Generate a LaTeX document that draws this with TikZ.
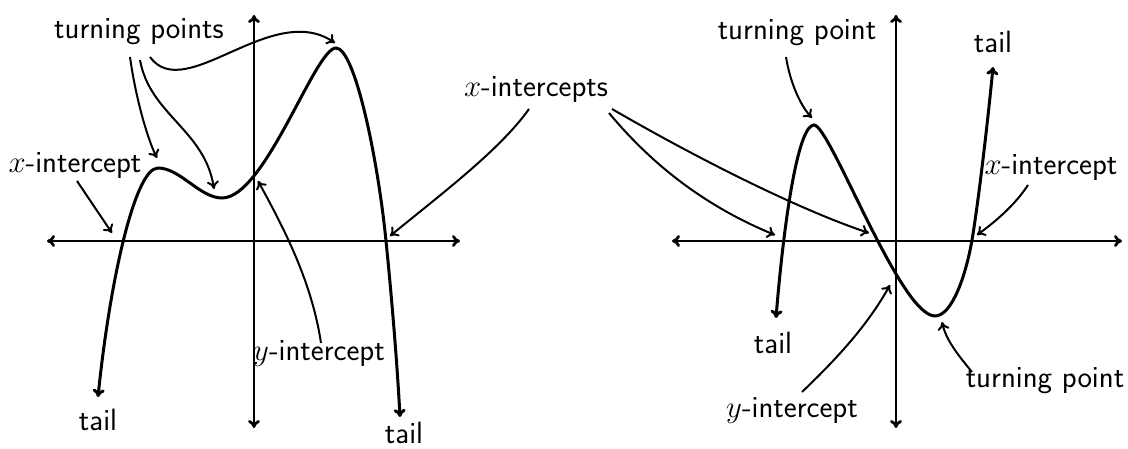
\RequirePackage{fix-cm}
\documentclass[tikz,border=0pt]{standalone}
\usetikzlibrary{arrows.meta}
\begin{document}
\begin{tikzpicture}[x=1pt,y=-1pt,
  lbl/.style={font=\fontsize{30.8}{36}\selectfont\sffamily, anchor=base, inner sep=0pt},
  axis/.style={line width=2.8pt, {To[length=8pt,width=12pt]}-{To[length=8pt,width=12pt]}},
  graph/.style={line width=3pt, {To[length=8pt,width=12pt]}-{To[length=8pt,width=12pt]}},
  ann/.style={line width=2pt, -{To[length=8pt,width=12pt]}}]
\useasboundingbox (0,0) rectangle (1128,449);

% labels
\node[lbl] (tps)  at (139,39)  {turning points};
\node[lbl] (xil)  at (75,173)  {$x$-intercept};
\node[lbl] (xis)  at (536,97)  {$x$-intercepts};
\node[lbl] (yil)  at (319,360) {$y$-intercept};
\node[lbl] (tl1)  at (98,430)  {tail};
\node[lbl] (tl2)  at (404,443) {tail};
\node[lbl] (tpr1) at (797,40)  {turning point};
\node[lbl] (tl3)  at (993,53)  {tail};
\node[lbl] (xir)  at (1051,175) {$x$-intercept};
\node[lbl] (tl4)  at (773,353) {tail};
\node[lbl] (yir)  at (792,417) {$y$-intercept};
\node[lbl] (tpr2) at (1045,387) {turning point};

% axes
\coordinate (Lxl) at (47,241);  \coordinate (Lxr) at (460,241);
\coordinate (Lyt) at (254,15);  \coordinate (Lyb) at (254,428);
\coordinate (Rxl) at (672,241); \coordinate (Rxr) at (1122,241);
\coordinate (Ryt) at (896,15);  \coordinate (Ryb) at (896,428);
\draw[axis] (Lxl) -- (Lxr);
\draw[axis] (Lyt) -- (Lyb);
\draw[axis] (Rxl) -- (Rxr);
\draw[axis] (Ryt) -- (Ryb);

% left graph (quartic)
\coordinate (Lt1) at (98,397);
\coordinate (Lm1) at (158,168);
\coordinate (Ln1) at (222,198);
\coordinate (Lm2) at (336,48);
\coordinate (Lx2) at (386,241);
\coordinate (Lt2) at (400,417);
\draw[graph] (Lt1) .. controls (110,280) and (135,168) .. (Lm1)
  .. controls (180,168) and (200,198) .. (Ln1)
  .. controls (265,198) and (315,48) .. (Lm2)
  .. controls (355,48) and (378,160) .. (Lx2)
  .. controls (391,290) and (397,360) .. (Lt2);

% right graph (cubic)
\coordinate (Rt1) at (776,318);
\coordinate (Rm1) at (814,125);
\coordinate (Rn1) at (935,316);
\coordinate (Rx3) at (972,240);
\coordinate (Rt2) at (993,67);
\draw[graph] (Rt1) .. controls (784,220) and (798,125) .. (Rm1)
  .. controls (830,125) and (900,316) .. (Rn1)
  .. controls (952,316) and (966,275) .. (Rx3)
  .. controls (978,205) and (988,120) .. (Rt2);

% annotation arrows, left
\coordinate (a1s) at (130,57);  \coordinate (a1e) at (157,158);
\coordinate (a2s) at (140,60);  \coordinate (a2e) at (214,189);
\coordinate (a3s) at (150,57);  \coordinate (a3e) at (335,43);
\coordinate (a4s) at (77,181);  \coordinate (a4e) at (112,233);
\coordinate (a5s) at (321,343); \coordinate (a5e) at (258,181);
\draw[ann] (a1s) .. controls (136,100) and (148,140) .. (a1e);
\draw[ann] (a2s) .. controls (150,115) and (205,130) .. (a2e);
\draw[ann] (a3s) .. controls (185,105) and (272,0) .. (a3e);
\draw[ann] (a4s) -- (a4e);
\draw[ann] (a5s) .. controls (312,283) and (285,230) .. (a5e);

% x-intercepts arrows
\coordinate (a6s) at (529,109); \coordinate (a6e) at (390,236);
\coordinate (a7s) at (609,113); \coordinate (a7e) at (775,235);
\coordinate (a8s) at (612,109); \coordinate (a8e) at (869,233);
\draw[ann] (a6s) .. controls (500,150) and (440,195) .. (a6e);
\draw[ann] (a7s) .. controls (640,150) and (690,200) .. (a7e);
\draw[ann] (a8s) .. controls (700,160) and (800,210) .. (a8e);

% annotation arrows, right
\coordinate (a9s) at (786,57);   \coordinate (a9e) at (812,118);
\coordinate (a10s) at (1028,185); \coordinate (a10e) at (977,235);
\coordinate (a11s) at (972,372); \coordinate (a11e) at (942,322);
\coordinate (a12s) at (802,392); \coordinate (a12e) at (890,285);
\draw[ann] (a9s) .. controls (790,82) and (800,105) .. (a9e);
\draw[ann] (a10s) .. controls (1015,205) and (995,222) .. (a10e);
\draw[ann] (a11s) .. controls (958,355) and (946,340) .. (a11e);
\draw[ann] (a12s) .. controls (830,365) and (865,330) .. (a12e);
\end{tikzpicture}
\end{document}
